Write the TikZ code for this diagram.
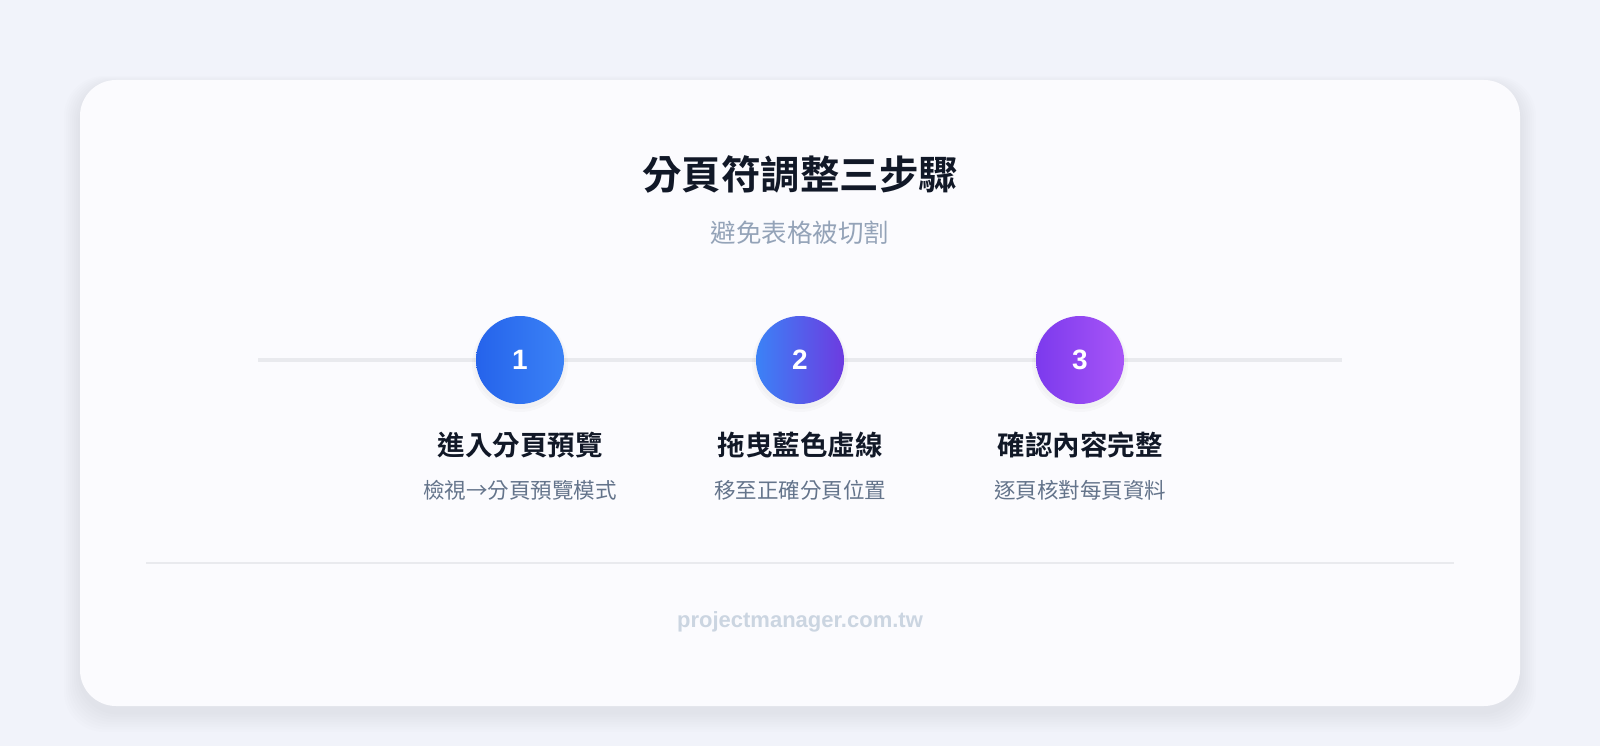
\documentclass[tikz,border=0pt]{standalone}
\usepackage{fontspec}
\newfontfamily\cjk{Noto Sans CJK TC}
\newfontfamily\cjkb{Noto Sans CJK TC Bold}
\newfontfamily\lat{Liberation Sans}
\definecolor{bg}{HTML}{F1F3FA}
\definecolor{card}{HTML}{FBFBFE}
\definecolor{ttl}{HTML}{111827}
\definecolor{sub}{HTML}{94A3B8}
\definecolor{desc}{HTML}{64748B}
\definecolor{track}{HTML}{E9EAEE}
\definecolor{foot}{HTML}{CBD5E1}
\begin{document}
\begin{tikzpicture}[x=1pt,y=-1pt,
  stepcirc/.style={circle,minimum size=88pt,inner sep=0pt,text=white,font=\lat\bfseries\fontsize{28}{30}\selectfont},
  steptitle/.style={font=\cjkb\fontsize{27.5}{32}\selectfont,text=ttl},
  stepdesc/.style={font=\cjk\fontsize{21.5}{25}\selectfont,text=desc}]
\useasboundingbox (0,0) rectangle (1600,746);
\fill[bg] (0,0) rectangle (1600,746);
\foreach \i in {1,...,8} \fill[black,opacity=0.006,rounded corners=40pt] ({80-\i*2},{84-\i*1}) rectangle ({1520+\i*2},{712+\i*2.5});
\fill[card,rounded corners=36pt] (80,80) rectangle (1520,706);
\node[font=\cjkb\fontsize{39.5}{44}\selectfont,text=ttl] (title) at (800,174) {分頁符調整三步驟};
\node[font=\cjk\fontsize{25.5}{30}\selectfont,text=sub] (subt) at (800,233) {避免表格被切割};
\coordinate (tl) at (258,360); \coordinate (tr) at (1342,360);
\draw[track,line width=4pt] (tl) -- (tr);
\foreach \x in {520,800,1080} {\fill[black,opacity=0.02] (\x,364) circle (48); \fill[black,opacity=0.02] (\x,363) circle (46);}
\shade[left color={rgb,255:red,37;green,99;blue,235},right color={rgb,255:red,59;green,130;blue,246}] (520,360) circle (44);
\shade[left color={rgb,255:red,59;green,130;blue,246},right color={rgb,255:red,109;green,59;blue,224}] (800,360) circle (44);
\shade[left color={rgb,255:red,124;green,58;blue,237},right color={rgb,255:red,168;green,85;blue,247}] (1080,360) circle (44);
\node[stepcirc] (n1) at (520,360) {1};
\node[stepcirc] (n2) at (800,360) {2};
\node[stepcirc] (n3) at (1080,360) {3};
\node[steptitle] (t1) at (520,445) {進入分頁預覽};
\node[steptitle] (t2) at (800,445) {拖曳藍色虛線};
\node[steptitle] (t3) at (1080,445) {確認內容完整};
\node[stepdesc] (d1) at (520,490) {檢視→分頁預覽模式};
\node[stepdesc] (d2) at (800,490) {移至正確分頁位置};
\node[stepdesc] (d3) at (1080,490) {逐頁核對每頁資料};
\coordinate (dl) at (146,563); \coordinate (dr) at (1454,563);
\draw[track,line width=1.5pt] (dl) -- (dr);
\node[font=\lat\bfseries\fontsize{22}{25}\selectfont,text=foot] (ft) at (800,622) {projectmanager.com.tw};
\end{tikzpicture}
\end{document}
